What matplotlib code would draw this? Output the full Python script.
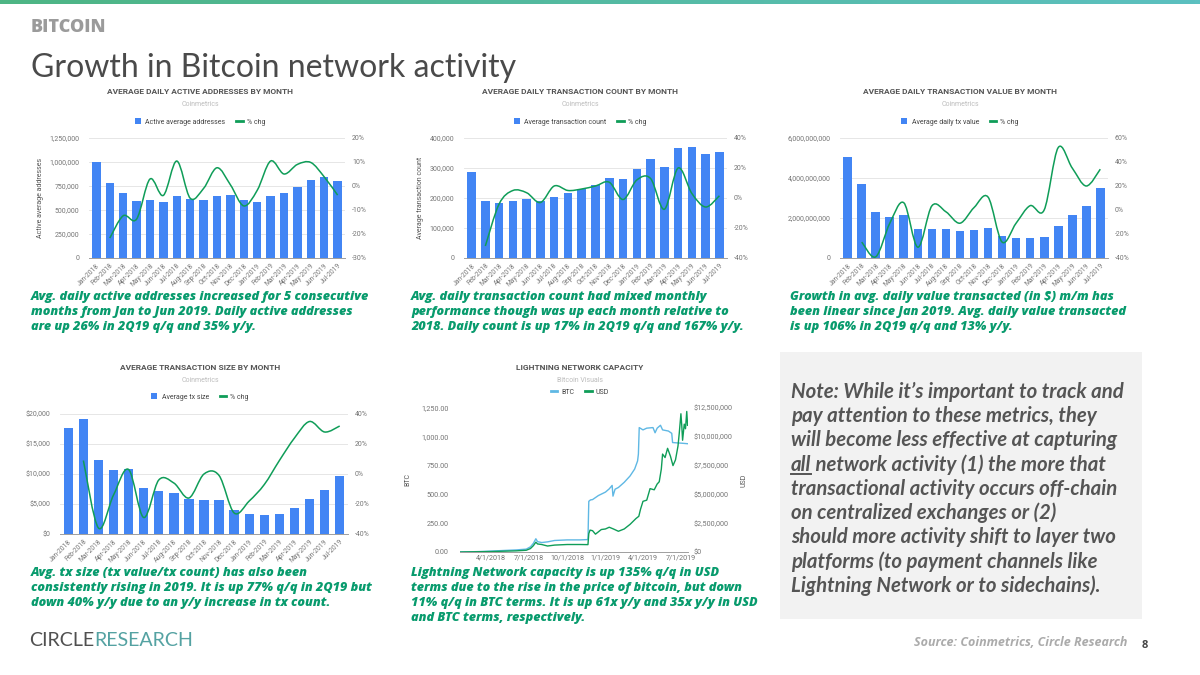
import numpy as np
import matplotlib
matplotlib.use("Agg")
import matplotlib.pyplot as plt
from matplotlib.path import Path
from matplotlib.patches import PathPatch, Rectangle, Patch
from matplotlib.lines import Line2D
from matplotlib.colors import LinearSegmentedColormap
import matplotlib.dates as mdates
from matplotlib.ticker import FuncFormatter

# ---------------- data ----------------
months = ["Jan-2018", "Feb-2018", "Mar-2018", "Apr-2018", "May-2018", "Jun-2018",
          "Jul-2018", "Aug-2018", "Sep-2018", "Oct-2018", "Nov-2018", "Dec-2018",
          "Jan-2019", "Feb-2019", "Mar-2019", "Apr-2019", "May-2019", "Jun-2019", "Jul-2019"]
nan = float("nan")

active_addr = [1000000, 777000, 680000, 590000, 604000, 580000, 642000, 611000, 604000, 649000,
               653000, 601000, 583000, 642000, 680000, 742000, 815000, 839000, 801000]
active_chg = [nan, -21.7, -12.4, -13.8, 2.9, -3.9, 10.4, -5.1, -1.0, 7.6,
              0.5, -8.3, -1.8, 10.4, 5.0, 9.0, 9.8, 3.8, -3.8]

tx_count = [286000, 191000, 182000, 191000, 198000, 191000, 205000, 217000, 229000, 245000,
            268000, 265000, 296000, 331000, 305000, 366000, 369000, 347000, 354000]
tx_count_chg = [nan, -32, -4, 5, 3.5, -3, 8, 5, 6, 8,
                10.5, -1, 12, 13, -7.5, 20, 3, -6, 1.5]

tx_value = [5.05e9, 3.70e9, 2.28e9, 2.05e9, 2.13e9, 1.47e9, 1.47e9, 1.47e9, 1.33e9, 1.38e9,
            1.50e9, 1.10e9, 0.98e9, 1.02e9, 1.05e9, 1.60e9, 2.17e9, 2.62e9, 3.52e9]
tx_value_chg = [nan, -26.7, -39, -11, 6, -31, 3.5, -1.5, -11, 2,
                10.8, -26.7, -11, 3.6, 0, 52, 35, 20, 34]

tx_size = [17600, 19200, 12300, 10600, 10800, 7650, 7200, 6800, 5800, 5700,
           5600, 4050, 3300, 3100, 3400, 4300, 5800, 7400, 9750]
tx_size_chg = [nan, 9, -36, -14, 3, -29, -4, -6, -16, 0,
               -1, -26, -18, -7, 9, 24, 35, 28, 32]

btc_dates = ["2018-01-17", "2018-02-15", "2018-03-15", "2018-04-01", "2018-05-01", "2018-06-01",
             "2018-06-25", "2018-07-05", "2018-07-12", "2018-07-18", "2018-07-22", "2018-08-01",
             "2018-08-15", "2018-09-01", "2018-10-01", "2018-11-01", "2018-11-20", "2018-11-22",
             "2018-11-26", "2018-12-01", "2018-12-15", "2019-01-01", "2019-01-10", "2019-01-17",
             "2019-01-19", "2019-01-24", "2019-02-01", "2019-02-15", "2019-03-01", "2019-03-12",
             "2019-03-19", "2019-03-21", "2019-03-23", "2019-04-01", "2019-04-10", "2019-04-25",
             "2019-04-30", "2019-05-05", "2019-05-13", "2019-05-18", "2019-06-01", "2019-06-09",
             "2019-06-11", "2019-07-01", "2019-07-17"]
btc_capacity = [0, 2, 5, 8, 13, 18, 25, 45, 75, 115, 90, 82, 88, 100, 105, 105, 108, 440,
                452, 455, 490, 520, 548, 578, 485, 545, 560, 605, 660, 720, 790, 850, 1080,
                1060, 1075, 1080, 1035, 1075, 1100, 1060, 1050, 1030, 950, 945, 940]

usd_dates = ["2018-01-17", "2018-04-01", "2018-06-01", "2018-06-25", "2018-07-05", "2018-07-12",
             "2018-07-18", "2018-07-22", "2018-08-01", "2018-08-15", "2018-09-01", "2018-10-01",
             "2018-11-01", "2018-11-20", "2018-11-22", "2018-11-25", "2018-12-01", "2018-12-08",
             "2018-12-15", "2018-12-22", "2019-01-01", "2019-01-10", "2019-01-20", "2019-02-01",
             "2019-02-15", "2019-03-01", "2019-03-15", "2019-03-22", "2019-03-26", "2019-04-01",
             "2019-04-10", "2019-04-18", "2019-04-28", "2019-05-05", "2019-05-10", "2019-05-15",
             "2019-05-18", "2019-05-24", "2019-05-30", "2019-06-06", "2019-06-12", "2019-06-18",
             "2019-06-24", "2019-06-27", "2019-07-01", "2019-07-03", "2019-07-05", "2019-07-09",
             "2019-07-12", "2019-07-15", "2019-07-17"]
usd_capacity = [0, 40e3, 100e3, 150e3, 300e3, 550e3, 850e3, 700e3, 650e3, 520e3, 600e3, 650e3,
                650e3, 640e3, 1.6e6, 1.9e6, 1.85e6, 1.55e6, 1.75e6, 1.95e6, 2.0e6, 2.15e6, 2.0e6,
                1.8e6, 2.0e6, 2.4e6, 2.9e6, 3.1e6, 3.7e6, 4.4e6, 4.5e6, 5.5e6, 5.4e6, 5.9e6, 6.1e6,
                7.2e6, 8.5e6, 8.2e6, 9.0e6, 8.3e6, 7.5e6, 8.0e6, 9.2e6, 10.3e6, 12.0e6, 11.0e6,
                9.7e6, 11.1e6, 10.7e6, 12.2e6, 11.0e6]
ln_ticks = ["2018-04-01", "2018-07-01", "2018-10-01", "2019-01-01", "2019-04-01", "2019-07-01"]
ln_tick_labels = ["4/1/2018", "7/1/2018", "10/1/2018", "1/1/2019", "4/1/2019", "7/1/2019"]

captions = {
    "c1": ["Avg. daily active addresses increased for 5 consecutive",
           "months from Jan to Jun 2019. Daily active addresses",
           "are up 26% in 2Q19 q/q and 35% y/y."],
    "c2": ["Avg. daily transaction count had mixed monthly",
           "performance though was up each month relative to",
           "2018. Daily count is up 17% in 2Q19 q/q and 167% y/y."],
    "c3": ["Growth in avg. daily value transacted (in $) m/m has",
           "been linear since Jan 2019. Avg. daily value transacted",
           "is up 106% in 2Q19 q/q and 13% y/y."],
    "c4": ["Avg. tx size (tx value/tx count) has also been",
           "consistently rising in 2019. It is up 77% q/q in 2Q19 but",
           "down 40% y/y due to an y/y increase in tx count."],
    "c5": ["Lightning Network capacity is up 135% q/q in USD",
           "terms due to the rise in the price of bitcoin, but down",
           "11% q/q in BTC terms. It is up 61x y/y and 35x y/y in USD",
           "and BTC terms, respectively."],
}

# ---------------- style ----------------
BLUE = "#4285f4"
GREEN = "#0f9d58"
LBLUE = "#5fb8e4"
GRID = "#e6e6e6"
TICK = "#757575"
CAPC = "#089b6d"
CHART_FONT = ["Roboto", "DejaVu Sans"]
SLIDE_FONT = ["Lato", "DejaVu Sans"]
WIDE_FONT = ["Open Sans", "DejaVu Sans"]
plt.rcParams["font.family"] = CHART_FONT

W, H = 1200, 675
fig = plt.figure(figsize=(12, 6.75), dpi=100)
fig.patch.set_facecolor("white")
renderer = fig.canvas.get_renderer()


def rect(x0, y0, x1, y1):
    return [x0 / W, 1 - y1 / H, (x1 - x0) / W, (y1 - y0) / H]


def ftext(x, y, s, **kw):
    return fig.text(x / W, 1 - y / H, s, **kw)


def fit_size(s, width, **kw):
    t = fig.text(0, 0, s, fontsize=10, **kw)
    w = t.get_window_extent(renderer).width
    t.remove()
    return 10 * width / w


def smooth_path(xs, ys):
    P = np.array([(x, y) for x, y in zip(xs, ys) if not np.isnan(y)], float)
    n = len(P)
    verts = [P[0]]
    codes = [Path.MOVETO]
    for i in range(n - 1):
        p0 = P[i - 1] if i > 0 else P[i]
        p1 = P[i]
        p2 = P[i + 1]
        p3 = P[i + 2] if i + 2 < n else P[i + 1]
        verts += [p1 + (p2 - p0) / 6, p2 - (p3 - p1) / 6, p2]
        codes += [Path.CURVE4] * 3
    return Path(verts, codes)


def chart_header(cx, ty, title, sub, ly, handles, labels):
    ftext(cx, ty, title, ha="center", va="center", fontsize=6.0, fontweight="bold", color="#555555")
    ftext(cx, ty + 13, sub, ha="center", va="center", fontsize=5.0, color="#bdbdbd")
    fig.legend(handles, labels, loc="center", bbox_to_anchor=(cx / W, 1 - ly / H), ncol=2,
               frameon=False, fontsize=5.0, handlelength=0.9, handleheight=0.9,
               handletextpad=0.6, columnspacing=1.6, labelcolor="#444444")


def bar_chart(box, vals, chg, ymax, ystep, yfmt, rlim, rstep, ylabel, cx, ty, title,
              sub, ly, leg_label):
    ax = fig.add_axes(rect(*box))
    x = np.arange(len(months))
    ax.bar(x, vals, width=0.62, color=BLUE, zorder=2)
    ax.set_xlim(-0.55, len(months) - 0.45)
    ax.set_ylim(0, ymax)
    ax.set_yticks(np.arange(0, ymax + ystep / 2, ystep))
    ax.yaxis.set_major_formatter(FuncFormatter(yfmt))
    ax.grid(axis="y", color=GRID, lw=0.7, zorder=0)
    ax.set_axisbelow(True)
    for s in ["top", "right", "left"]:
        ax.spines[s].set_visible(False)
    ax.spines["bottom"].set_color("#9e9e9e")
    ax.spines["bottom"].set_linewidth(0.7)
    ax.set_xticks(x)
    ax.set_xticklabels(months, rotation=45, ha="right", rotation_mode="anchor")
    ax.tick_params(axis="both", length=0, labelsize=5.0, labelcolor=TICK)
    ax.tick_params(axis="y", pad=7)
    ax.tick_params(axis="x", pad=3, labelsize=4.9)
    if ylabel:
        ax.set_ylabel(ylabel, fontsize=5.0, color="#555555", labelpad=4)
    ax2 = ax.twinx()
    ax2.set_ylim(*rlim)
    ax2.set_yticks(np.arange(rlim[0], rlim[1] + rstep / 2, rstep))
    ax2.yaxis.set_major_formatter(FuncFormatter(lambda v, p: f"{v:.0f}%"))
    ax2.tick_params(axis="y", length=0, labelsize=5.0, labelcolor=TICK, pad=5)
    for s in ax2.spines.values():
        s.set_visible(False)
    ax2.add_patch(PathPatch(smooth_path(x, chg), fill=False, edgecolor=GREEN, lw=1.1, zorder=3))
    chart_header(cx, ty, title, sub, ly,
                 [Patch(facecolor=BLUE), Line2D([0], [0], color=GREEN, lw=2)],
                 [leg_label, "% chg"])
    return ax


# ---------------- top bar and headings ----------------
gax = fig.add_axes([0, 1 - 4.5 / H, 1, 4.5 / H])
grad = np.linspace(0, 1, 256)[None, :]
cmap = LinearSegmentedColormap.from_list("g", ["#4db584", "#5cc0c0"])
gax.imshow(grad, aspect="auto", cmap=cmap)
gax.axis("off")

kw_b = dict(fontweight="extra bold", color="#9b9b9b", va="center", family=WIDE_FONT)
ftext(31, 28, "BITCOIN", fontsize=fit_size("BITCOIN", 76, **kw_b), **kw_b)
kw_t = dict(color="#4a4a4a", va="center", family=SLIDE_FONT)
title_s = "Growth in Bitcoin network activity"
ftext(31, 68, title_s, fontsize=fit_size(title_s, 486, **kw_t), **kw_t)

# ---------------- bar charts ----------------
bar_chart((89, 138, 345, 258), active_addr, active_chg, 1250000, 250000,
          lambda v, p: f"{v:,.0f}", (-30, 20), 10, "Active average addresses",
          200, 92, "AVERAGE DAILY ACTIVE ADDRESSES BY MONTH", "Coinmetrics", 122,
          "Active average addresses")
bar_chart((464, 138, 727, 258), tx_count, tx_count_chg, 400000, 100000,
          lambda v, p: f"{v:,.0f}", (-40, 40), 20, "Average transaction count",
          580, 92, "AVERAGE DAILY TRANSACTION COUNT BY MONTH", "Coinmetrics", 122,
          "Average transaction count")
bar_chart((840, 138, 1108, 258), tx_value, tx_value_chg, 6e9, 2e9,
          lambda v, p: f"{v:,.0f}", (-40, 60), 20, None,
          960, 92, "AVERAGE DAILY TRANSACTION VALUE BY MONTH", "Coinmetrics", 122,
          "Average daily tx value")
bar_chart((60, 414, 348, 534), tx_size, tx_size_chg, 20000, 5000,
          lambda v, p: f"${v:,.0f}", (-40, 40), 20, None,
          200, 368, "AVERAGE TRANSACTION SIZE BY MONTH", "Coinmetrics", 397,
          "Average tx size")

# ---------------- lightning network ----------------
lax = fig.add_axes(rect(460, 408, 688, 552))
bd = mdates.datestr2num(btc_dates)
ud = mdates.datestr2num(usd_dates)
lax.plot(bd, btc_capacity, color=LBLUE, lw=1.0, zorder=3)
lax.set_xlim(mdates.datestr2num("2018-01-17"), mdates.datestr2num("2019-07-18"))
lax.set_ylim(0, 1250)
lax.set_yticks(np.arange(0, 1251, 250))
lax.yaxis.set_major_formatter(FuncFormatter(lambda v, p: f"{v:,.2f}"))
lax.set_xticks(mdates.datestr2num(ln_ticks))
lax.set_xticklabels(ln_tick_labels)
for s in ["top", "right", "left"]:
    lax.spines[s].set_visible(False)
lax.spines["bottom"].set_color("#9e9e9e")
lax.spines["bottom"].set_linewidth(0.7)
lax.tick_params(axis="both", length=0, labelsize=5.2, labelcolor=TICK, pad=2)
lax.tick_params(axis="y", pad=8)
lax.set_ylabel("BTC", fontsize=5.0, color="#555555", labelpad=7)
lax2 = lax.twinx()
lax2.plot(ud, usd_capacity, color=GREEN, lw=1.0, zorder=3)
lax2.set_ylim(0, 12.5e6)
lax2.set_yticks(np.arange(0, 12.5e6 + 1, 2.5e6))
lax2.yaxis.set_major_formatter(FuncFormatter(lambda v, p: f"${v:,.0f}"))
lax2.tick_params(axis="y", length=0, labelsize=5.2, labelcolor=TICK, pad=4)
for s in lax2.spines.values():
    s.set_visible(False)
lax2.set_ylabel("USD", fontsize=5.0, color="#555555", labelpad=6)
chart_header(580, 367, "LIGHTNING NETWORK CAPACITY", "Bitcoin Visuals", 392,
             [Line2D([0], [0], color=LBLUE, lw=2), Line2D([0], [0], color=GREEN, lw=2)],
             ["BTC", "USD"])

# ---------------- captions ----------------
kw_c = dict(fontweight="extra bold", style="italic", color=CAPC, va="center", family=WIDE_FONT)
cap_size = fit_size(captions["c1"][0], 338, **kw_c)


def caption(x, y0, lines):
    for i, line in enumerate(lines):
        ftext(x, y0 + i * 15, line, fontsize=cap_size, **kw_c)


caption(31, 297, captions["c1"])
caption(411, 297, captions["c2"])
caption(790, 297, captions["c3"])
caption(31, 573, captions["c4"])
caption(411, 573, captions["c5"])

# ---------------- note box ----------------
bax = fig.add_axes([0, 0, 1, 1], zorder=-1)
bax.set_xlim(0, W)
bax.set_ylim(H, 0)
bax.axis("off")
bax.add_patch(Rectangle((780, 352), 362, 267, facecolor="#f2f2f2", edgecolor="none"))

note_lines = ["Note: While it\u2019s important to track and",
              "pay attention to these metrics, they",
              "will become less effective at capturing",
              None,
              "transactional activity occurs off-chain",
              "on centralized exchanges or (2)",
              "should more activity shift to layer two",
              "platforms (to payment channels like",
              "Lightning Network or to sidechains)."]
kw_n = dict(fontweight="bold", style="italic", color="#555555", va="center", family=SLIDE_FONT)
note_size = fit_size(note_lines[0], 332, **kw_n)
for i, line in enumerate(note_lines):
    y = 392 + i * 24.2
    if line is None:
        t = ftext(791, y, "all", fontsize=note_size, **kw_n)
        bb = t.get_window_extent(renderer)
        x_end = bb.x1
        ftext(x_end, y, " network activity (1) the more that", fontsize=note_size, **kw_n)
        bax.plot([791, x_end], [y + 9, y + 9], color="#555555", lw=1.4)
    else:
        ftext(791, y, line, fontsize=note_size, **kw_n)

kw_s = dict(fontweight="bold", style="italic", color="#ababab", ha="right", va="center",
            family=WIDE_FONT)
src = "Source: Coinmetrics, Circle Research"
ftext(1127, 643, src, fontsize=fit_size(src, 215, **kw_s), **kw_s)
ftext(1145, 645, "8", fontsize=8, fontweight="bold", color="#444444", ha="center", va="center",
      family=WIDE_FONT)

# logo
kw_l = dict(fontweight="normal", va="center", family=SLIDE_FONT)
logo_size = fit_size("CIRCLERESEARCH", 163, **kw_l)
t1 = ftext(29, 640, "CIRCLE", fontsize=logo_size, color="#505050", **kw_l)
bb = t1.get_window_extent(renderer)
fig.text(bb.x1 / W, 1 - 640 / H, "RESEARCH", fontsize=logo_size, color="#54a2a2", **kw_l)

fig.savefig("out.png", dpi=100)
